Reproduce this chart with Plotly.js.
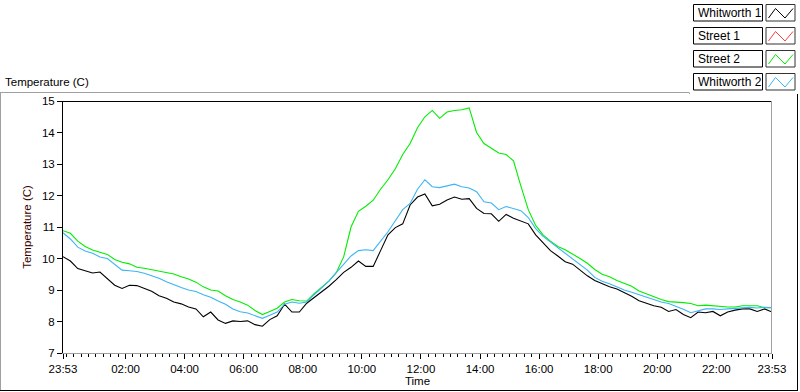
<!DOCTYPE html>
<html>
<head>
<meta charset="utf-8">
<script src="https://cdn.plot.ly/plotly-3.0.1.min.js"></script>
<style>
html,body{margin:0;padding:0;background:#fff;}
#chart{width:800px;height:392px;}
</style>
</head>
<body>
<div id="chart"></div>
<script>
// ---- data (15-minute samples) ----
const times = ["23:53",
"00:08","00:23","00:38","00:53","01:08","01:23","01:38","01:53",
"02:08","02:23","02:38","02:53","03:08","03:23","03:38","03:53",
"04:08","04:23","04:38","04:53","05:08","05:23","05:38","05:53",
"06:08","06:23","06:38","06:53","07:08","07:23","07:38","07:53",
"08:08","08:23","08:38","08:53","09:08","09:23","09:38","09:53",
"10:08","10:23","10:38","10:53","11:08","11:23","11:38","11:53",
"12:08","12:23","12:38","12:53","13:08","13:23","13:38","13:53",
"14:08","14:23","14:38","14:53","15:08","15:23","15:38","15:53",
"16:08","16:23","16:38","16:53","17:08","17:23","17:38","17:53",
"18:08","18:23","18:38","18:53","19:08","19:23","19:38","19:53",
"20:08","20:23","20:38","20:53","21:08","21:23","21:38","21:53",
"22:08","22:23","22:38","22:53","23:08","23:23","23:38","23:53"];

const whitworth1 = [10.06,
9.92,9.68,9.60,9.54,9.57,9.36,9.15,9.05,
9.15,9.14,9.05,8.96,8.82,8.74,8.62,8.56,
8.46,8.40,8.15,8.30,8.05,7.94,8.02,8.00,
8.02,7.90,7.85,8.06,8.18,8.55,8.30,8.30,
8.58,8.76,8.92,9.12,9.33,9.56,9.72,9.92,
9.75,9.75,10.25,10.75,10.98,11.10,11.70,11.95,
12.05,11.67,11.72,11.86,11.95,11.88,11.90,11.59,
11.43,11.42,11.18,11.40,11.28,11.20,11.10,10.75,
10.50,10.25,10.08,9.90,9.82,9.62,9.45,9.30,
9.19,9.10,9.03,8.92,8.80,8.66,8.58,8.50,
8.45,8.32,8.38,8.22,8.12,8.30,8.28,8.32,
8.18,8.30,8.36,8.40,8.40,8.32,8.40,8.30];

const street1 = [];   // no visible data in the reference

const street2 = [10.88,
10.80,10.55,10.38,10.27,10.20,10.13,9.97,9.88,
9.83,9.72,9.69,9.65,9.61,9.55,9.51,9.42,
9.35,9.25,9.10,9.00,8.97,8.82,8.70,8.62,
8.52,8.35,8.22,8.32,8.42,8.62,8.70,8.66,
8.65,8.88,9.08,9.28,9.55,10.05,11.00,11.50,
11.66,11.85,12.20,12.50,12.85,13.30,13.65,14.15,
14.50,14.70,14.45,14.65,14.70,14.72,14.78,14.00,
13.65,13.50,13.35,13.30,13.10,12.30,11.55,11.05,
10.75,10.55,10.38,10.28,10.15,10.00,9.85,9.65,
9.50,9.42,9.30,9.20,9.12,8.97,8.88,8.78,
8.70,8.63,8.62,8.60,8.57,8.50,8.52,8.50,
8.46,8.46,8.46,8.50,8.50,8.50,8.44,8.44];

const whitworth2 = [10.82,
10.62,10.36,10.24,10.17,10.05,10.00,9.80,9.63,
9.61,9.59,9.53,9.45,9.37,9.26,9.16,9.08,
9.00,8.95,8.85,8.77,8.65,8.55,8.40,8.31,
8.27,8.18,8.10,8.20,8.30,8.55,8.62,8.58,
8.62,8.85,9.05,9.28,9.55,9.82,10.08,10.25,
10.28,10.25,10.55,10.85,11.20,11.55,11.75,12.20,
12.50,12.28,12.25,12.30,12.36,12.28,12.24,12.12,
11.80,11.76,11.55,11.65,11.58,11.52,11.30,10.95,
10.70,10.52,10.33,10.15,10.00,9.80,9.63,9.40,
9.28,9.20,9.09,9.00,8.93,8.85,8.77,8.68,
8.62,8.57,8.49,8.39,8.28,8.35,8.40,8.40,
8.38,8.40,8.42,8.44,8.45,8.43,8.45,8.44];

const seriesNames = ["Whitworth 1","Street 1","Street 2","Whitworth 2"];
const tickLabels = ["23:53","02:00","04:00","06:00","08:00","10:00","12:00","14:00","16:00","18:00","20:00","22:00","23:53"];
const yTicks = [7,8,9,10,11,12,13,14,15];

// ---- helpers ----
function toHours(s, i){
  const p = s.split(":");
  let v = +p[0] + (+p[1])/60;
  if (i === 0 && v > 12) v -= 24;   // first sample belongs to the previous day
  return v;
}
const xs = times.map((s,i)=>toHours(s,i));
const xTickVals = tickLabels.map((s,i)=> toHours(s, i===0 ? 0 : 1));

const colors = ["#000000","#ff3c3c","#00ee00","#3cb4f5"];
const FONT = "Liberation Sans, Arial, sans-serif";
const FS = 11.5;

const L=63, R=772, T=101, B=353;
const px = x => (x-L)/(R-L);
const py = y => (B-y)/(B-T);

const traces = [whitworth1, street1, street2, whitworth2].map((ys,i)=>({
  x: ys.length ? xs : [],
  y: ys,
  type: "scatter",
  mode: "lines",
  name: seriesNames[i],
  line: {color: colors[i], width: 1.1},
  hoverinfo: "x+y+name"
}));

// frame / legend decoration shapes
const shapes = [];
function line(x0,y0,x1,y1,color){
  shapes.push({type:"line", xref:"paper", yref:"paper", x0:px(x0), y0:py(y0), x1:px(x1), y1:py(y1), line:{color:color, width:1}});
}
line(63,101.5,772,101.5,"#000000");        // plot top
line(771.5,101,771.5,353,"#a0a0a0");       // plot right
line(0,92.5,689,92.5,"#a0a0a0");           // outer top
line(0.5,92.5,0.5,390.5,"#a0a0a0");        // outer left
line(0,390.5,798,390.5,"#000000");         // outer bottom
line(797.5,94,797.5,390.5,"#000000");      // outer right
line(689.5,92.5,689.5,94,"#a0a0a0");

const annotations = [];
const rowTop = [4.5, 27.5, 50.5, 73.5];
seriesNames.forEach((nm,i)=>{
  const t = rowTop[i], b = t+16.5;
  shapes.push({type:"rect", xref:"paper", yref:"paper", x0:px(693.5), x1:px(762.5), y0:py(b), y1:py(t), line:{color:"#000", width:1}, fillcolor:"#fff"});
  shapes.push({type:"rect", xref:"paper", yref:"paper", x0:px(766), x1:px(795), y0:py(b), y1:py(t), line:{color:"#333", width:1}, fillcolor:"#fff"});
  const zx=[768.5,775.5,785,793], zy=[b-3,t+4,b-3,t+4];
  let path = "M"+px(zx[0])+","+py(zy[0]);
  for (let k=1;k<4;k++) path += " L"+px(zx[k])+","+py(zy[k]);
  shapes.push({type:"path", xref:"paper", yref:"paper", path:path, line:{color:colors[i], width:1}});
  annotations.push({xref:"paper", yref:"paper", x:px(695.5), y:py(t+8.5), xanchor:"left", yanchor:"middle",
    text:nm, showarrow:false, font:{family:FONT, size:12, color:"#000"}});
});

const layout = {
  width: 800, height: 392,
  paper_bgcolor: "#ffffff", plot_bgcolor: "#ffffff",
  margin: {l:L, r:800-R, t:T, b:392-B, pad:0},
  showlegend: false,
  font: {family: FONT, size: FS, color: "#000"},
  title: {text: "Temperature (C)", x: 5/800, xanchor: "left", y: 1-82/392, yanchor: "middle", yref:"container",
          font: {family: FONT, size: FS, color: "#000"}},
  xaxis: {
    range: [xs[0], xs[xs.length-1]],
    tickmode: "array", tickvals: xTickVals, ticktext: tickLabels,
    ticks: "outside", ticklen: 5, tickcolor: "#000", tickwidth: 1,
    minor: {tickmode: "linear", tick0: 0, dtick: 0.25, ticks: "outside", ticklen: 3, tickcolor: "#000", tickwidth: 1, showgrid:false},
    showline: true, linecolor: "#a0a0a0", linewidth: 1,
    showgrid: false, zeroline: false,
    tickfont: {family: FONT, size: FS, color: "#000"},
    title: {text: "Time", standoff: 3, font: {family: FONT, size: FS, color: "#000"}}
  },
  yaxis: {
    range: [7, 15],
    tickmode: "array", tickvals: yTicks,
    ticks: "outside", ticklen: 5, tickcolor: "#000", tickwidth: 1,
    showline: true, linecolor: "#000", linewidth: 1,
    showgrid: false, zeroline: false,
    tickfont: {family: FONT, size: FS, color: "#000"},
    title: {text: "Temperature (C)", standoff: 7, font: {family: FONT, size: FS, color: "#3a0000"}}
  },
  shapes: shapes,
  annotations: annotations
};

Plotly.newPlot("chart", traces, layout, {displayModeBar: false, staticPlot: true});
</script>
</body>
</html>
